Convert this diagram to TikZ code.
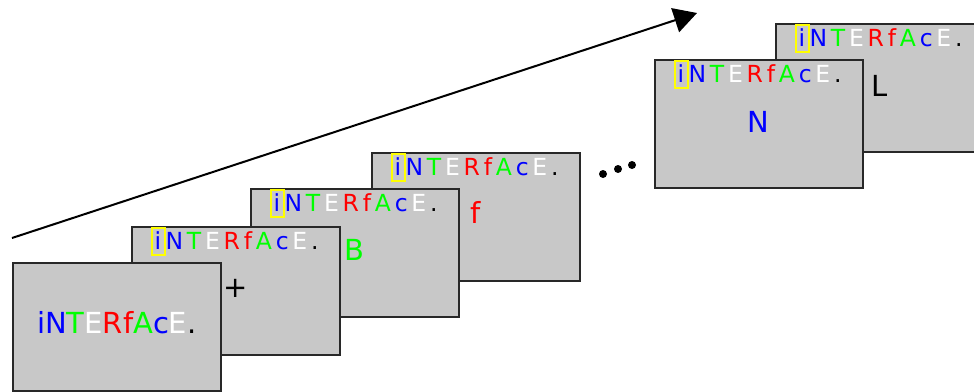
\documentclass[tikz,border=0pt]{standalone}
\usepackage{fontspec}
\setmainfont{DejaVu Sans}
\usetikzlibrary{arrows.meta}
\definecolor{boxgray}{RGB}{200,200,200}
\definecolor{boxline}{RGB}{40,40,40}
\definecolor{hiyellow}{RGB}{255,255,0}
\newcommand\bigfont{\fontsize{29}{35}\selectfont}
\newcommand\hdrfont{\fontsize{23.5}{28}\selectfont}
\newcommand\trk{\kern3.8pt}
\newcommand\hdrrest{\color{blue}N\trk\color{green}T\trk\color{white}E\trk\color{red}R\trk f\trk\color{green}A\trk\color{blue}c\trk\color{white}E\trk\color{black}.}
\newcommand\boxhead[1]{%
  \node[ibox] (#1i) at ([xshift=27pt,yshift=-15pt]#1.north west) {\color{blue}i};
  \node[hrest] (#1h) at ([xshift=7.3pt]#1i.base) {\hdrrest};
}
\tikzset{
  card/.style={draw=boxline, line width=1.6pt, fill=boxgray, anchor=north west,
    minimum width=208pt, minimum height=128pt, inner sep=0pt},
  ibox/.style={draw=hiyellow, line width=2pt, minimum width=13pt, minimum height=27pt,
    inner sep=0pt, text height=17pt, text depth=0pt, font=\hdrfont},
  hrest/.style={anchor=base west, inner sep=0pt, font=\hdrfont},
  lbl/.style={anchor=base, inner sep=0pt, font=\bigfont},
  dot/.style={circle, fill=black, inner sep=0pt, minimum size=8pt}
}
\begin{document}
\begin{tikzpicture}[x=1pt,y=-1pt]
\useasboundingbox (0,0) rectangle (974,391);
% arrow
\coordinate (as) at (12,238);
\coordinate (ae) at (697,13);
\draw[line width=2pt, -{Triangle[length=23pt,width=25pt]}] (as) -- (ae);
% cards back to front
\node[card] (bL) at (775,23) {};
\boxhead{bL}
\node[lbl, text=black] (lL) at ([yshift=-73pt]bL.north) {L};
\node[card] (bN) at (654,59) {};
\boxhead{bN}
\node[lbl, text=blue] (lN) at ([yshift=-73pt]bN.north) {N};
\node[card] (b4) at (371,152) {};
\boxhead{b4}
\node[lbl, text=red] (l4) at ([yshift=-71pt]b4.north) {f};
\node[card] (b3) at (250,188) {};
\boxhead{b3}
\node[lbl, text=green] (l3) at ([yshift=-72pt]b3.north) {B};
\node[card] (b2) at (131,226) {};
\boxhead{b2}
\node[lbl, text=black] (l2) at ([yshift=-71pt]b2.north) {+};
\node[card] (b1) at (12,262) {};
\node[lbl] (t1) at ([yshift=-71pt]b1.north) {\color{blue}iN\color{green}T\color{white}E\color{red}Rf\color{green}A\color{blue}c\color{white}E\color{black}.};
% dots
\node[dot] (d1) at (603,174) {};
\node[dot] (d2) at (618,169) {};
\node[dot] (d3) at (632,165) {};
\end{tikzpicture}
\end{document}
